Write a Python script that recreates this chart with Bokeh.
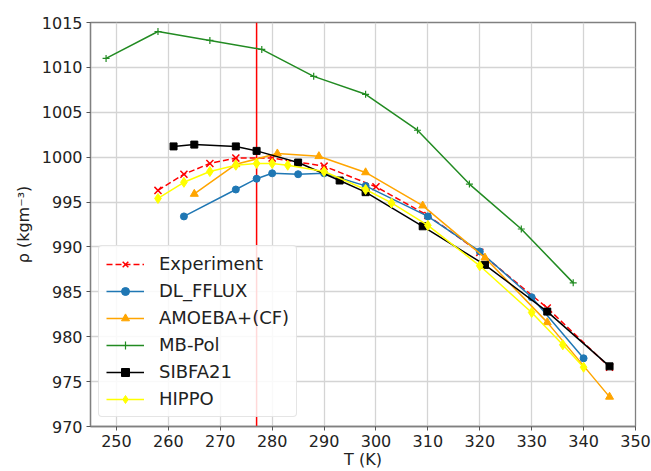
from bokeh.plotting import figure
from bokeh.models import Span, Legend, FixedTicker
from bokeh.embed import file_html
from bokeh.resources import INLINE

# ---- data ----
exp_T = [258, 263, 268, 273, 280, 290, 300, 310, 320, 333, 345]
exp_rho = [996.3, 998.1, 999.3, 999.9, 999.9, 999.0, 996.7, 993.5, 989.4, 983.2, 976.6]

dl_T = [263, 273, 277, 280, 285, 290, 298, 310, 320, 330, 340]
dl_rho = [993.4, 996.4, 997.6, 998.2, 998.1, 998.2, 996.8, 993.4, 989.5, 984.4, 977.6]

am_T = [265, 273, 281, 289, 298, 309, 321, 333, 345]
am_rho = [995.9, 999.2, 1000.4, 1000.1, 998.3, 994.6, 988.8, 981.6, 973.3]

mb_T = [248, 258, 268, 278, 288, 298, 308, 318, 328, 338]
mb_rho = [1011, 1014, 1013, 1012, 1009, 1007, 1003, 997, 992, 986]

sib_T = [261, 265, 273, 277, 285, 293, 298, 309, 321, 333, 345]
sib_rho = [1001.2, 1001.4, 1001.2, 1000.7, 999.4, 997.4, 996.1, 992.3, 988.0, 982.8, 976.7]

hip_T = [258, 263, 268, 273, 277, 280, 283, 290, 298, 303, 310, 320, 330, 336, 340]
hip_rho = [995.4, 997.2, 998.4, 999.1, 999.3, 999.3, 999.1, 998.4, 996.4, 994.9, 992.4, 987.9, 982.7, 979.1, 976.6]

max_density_T = 277

x_ticks = list(range(250, 351, 10))
y_ticks = list(range(970, 1016, 5))

FONT = "DejaVu Sans"

p = figure(width=651, height=471, x_range=(245, 350), y_range=(970, 1015),
           output_backend="svg", toolbar_location=None,
           min_border_left=90, min_border_right=16, min_border_top=22, min_border_bottom=44)

p.background_fill_color = "white"
p.border_fill_color = "white"
p.outline_line_color = "#808080"
p.outline_line_width = 1.3

for ax in (p.xaxis[0], p.yaxis[0]):
    ax.axis_line_color = "#808080"
    ax.axis_line_width = 1.3
    ax.major_tick_line_color = "#555555"
    ax.major_tick_out = 4
    ax.major_tick_in = 0
    ax.minor_tick_line_color = None
    ax.major_label_text_font = FONT
    ax.major_label_text_font_size = "16px"
    ax.major_label_text_color = "#222222"
    ax.axis_label_text_font = FONT
    ax.axis_label_text_font_size = "16px"
    ax.axis_label_text_font_style = "normal"
    ax.axis_label_text_color = "#222222"
    ax.major_label_standoff = 4

p.xaxis.ticker = FixedTicker(ticks=x_ticks)
p.yaxis.ticker = FixedTicker(ticks=y_ticks)
p.xaxis.axis_label = "T (K)"
p.yaxis.axis_label = "ρ (kgm⁻³)"
p.xaxis.axis_label_standoff = 0
p.yaxis.axis_label_standoff = 6

p.grid.grid_line_color = "#d4d4d4"
p.grid.grid_line_width = 1.3

vline = Span(location=max_density_T, dimension="height", line_color="red", line_width=1.5, level="underlay")
p.add_layout(vline)

items = []
r1 = p.line(exp_T, exp_rho, line_color="red", line_width=1.5, line_dash="6 3")
r1b = p.scatter(exp_T, exp_rho, marker="x", size=10, line_color="red", line_width=1.5)
items.append(("Experiment", [r1, r1b]))

c_blue = "#1f77b4"
r2 = p.line(dl_T, dl_rho, line_color=c_blue, line_width=1.5)
r2b = p.scatter(dl_T, dl_rho, marker="circle", size=7, fill_color=c_blue, line_color=c_blue)
items.append(("DL_FFLUX", [r2, r2b]))

c_or = "#FFA500"
r3 = p.line(am_T, am_rho, line_color=c_or, line_width=1.5)
r3b = p.scatter(am_T, am_rho, marker="triangle", size=8, fill_color=c_or, line_color=c_or)
items.append(("AMOEBA+(CF)", [r3, r3b]))

c_gr = "#228B22"
r4 = p.line(mb_T, mb_rho, line_color=c_gr, line_width=1.5)
r4b = p.scatter(mb_T, mb_rho, marker="cross", size=7, line_color=c_gr, line_width=1.2)
items.append(("MB-Pol", [r4, r4b]))

r5 = p.line(sib_T, sib_rho, line_color="black", line_width=1.5)
r5b = p.scatter(sib_T, sib_rho, marker="square", size=7, fill_color="black", line_color="black")
items.append(("SIBFA21", [r5, r5b]))

c_y = "#FFFF00"
r6 = p.line(hip_T, hip_rho, line_color=c_y, line_width=1.5)
r6b = p.scatter(hip_T, hip_rho, marker="diamond", size=10, fill_color=c_y, line_color=c_y)
items.append(("HIPPO", [r6, r6b]))

legend = Legend(items=items, location=(8, 9))
legend.label_text_font = FONT
legend.label_text_font_size = "18px"
legend.label_text_color = "#222222"
legend.glyph_width = 38
legend.glyph_height = 20
legend.label_height = 20
legend.spacing = 6
legend.padding = 7
legend.label_standoff = 15
legend.border_line_color = "#cccccc"
legend.border_line_width = 1
legend.border_radius = 4
legend.background_fill_color = "white"
legend.background_fill_alpha = 0.85
p.add_layout(legend, "center")

open("out.html", "w").write(file_html(p, INLINE))
